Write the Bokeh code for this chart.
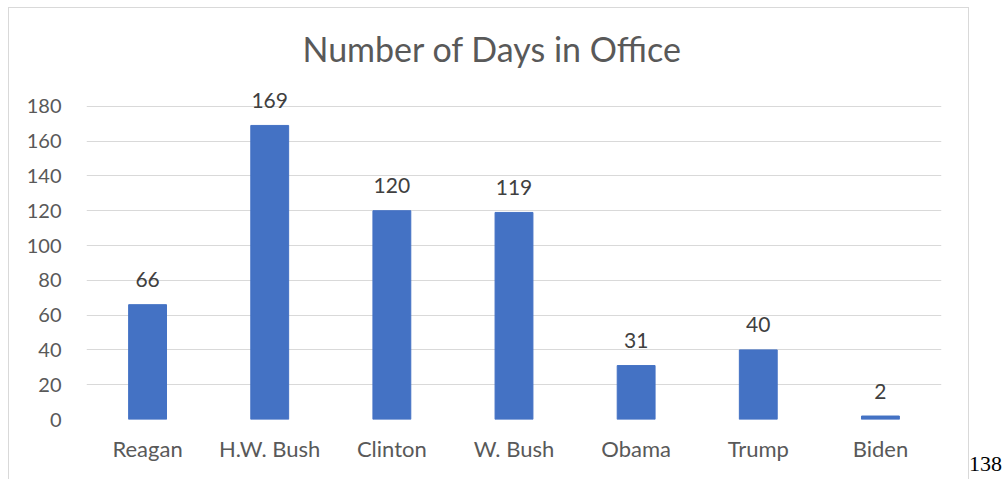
from bokeh.plotting import figure
from bokeh.models import ColumnDataSource, Label, Div, Range1d, FixedTicker
from bokeh.layouts import row
from bokeh.embed import file_html
from bokeh.resources import INLINE

presidents = ["Reagan", "H.W. Bush", "Clinton", "W. Bush", "Obama", "Trump", "Biden"]
days = [66, 169, 120, 119, 31, 40, 2]
y_ticks = [0, 20, 40, 60, 80, 100, 120, 140, 160, 180]
title_text = "Number of Days in Office"
page_number = "138"

FONT = "Lato"

src = ColumnDataSource(dict(x=presidents, top=days))

# y range extends past the top tick so the value labels above tall bars are not clipped
p = figure(x_range=presidents, y_range=Range1d(0, 200), width=961, height=472,
           output_backend="svg", toolbar_location=None,
           min_border_left=77, min_border_right=29, min_border_top=63, min_border_bottom=61)
p.margin = (7, 0, 0, 8)
p.styles = {"border-left": "1px solid #d9d9d9", "border-top": "1px solid #d9d9d9",
            "border-right": "1px solid #d9d9d9"}

p.vbar(x="x", top="top", width=0.31, source=src, color="#4472C4")

# categorical factor i sits at synthetic coordinate i + 0.5
for i, d in enumerate(days):
    p.add_layout(Label(x=i + 0.5, y=d, text=str(d), text_align="center",
                       text_baseline="alphabetic", y_offset=25, text_font=FONT,
                       text_font_size="21px", text_color="#404040"))

p.title.text = title_text
p.title.text_font = FONT
p.title.text_font_size = "34px"
p.title.text_font_style = "normal"
p.title.text_color = "#595959"
p.title.align = "left"
p.title.offset = 216
p.title.standoff = 5

p.xgrid.visible = False
p.ygrid.grid_line_color = "#d9d9d9"
p.ygrid.grid_line_width = 1
p.outline_line_color = None
p.yaxis.ticker = FixedTicker(ticks=y_ticks)

for ax in (p.xaxis, p.yaxis):
    ax.axis_line_color = None
    ax.major_tick_line_color = None
    ax.minor_tick_line_color = None
    ax.major_label_text_font = FONT
    ax.major_label_text_color = "#595959"
p.yaxis.major_label_text_font_size = "20px"
p.xaxis.major_label_text_font_size = "22px"
p.yaxis.major_label_standoff = 19
p.xaxis.major_label_standoff = 9

div = Div(text=page_number, width=34, height=472,
          styles={"font-family": "Liberation Serif", "font-size": "22px", "color": "#000000",
                  "padding-top": "443px", "position": "relative", "left": "-5px"})

layout = row(p, div)
open("out.html", "w").write(file_html(layout, INLINE))
